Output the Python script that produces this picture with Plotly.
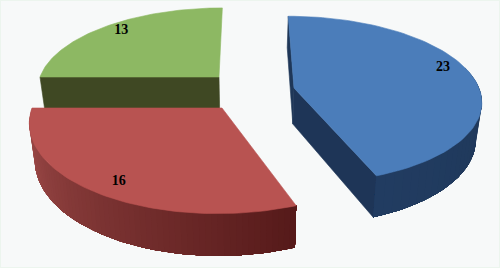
import numpy as np
import plotly.graph_objects as go

categories = ["A", "B", "C"]
values = [23, 16, 13]
top_colors = ["#4b7dba", "#b85351", "#8db863"]
dark_colors = ["#1f3758", "#5c2222", "#3f4823"]

# Perspective camera (pixels)
XV, YV = 247.0, -500.0
DEPTH = 36.0
# one placement per slice: apex x, apex y, radius x, perspective strength
placement = [(294.0, 88.0, 185.0, 0.139),
             (222.0, 108.0, 190.0, 0.148),
             (219.0, 77.0, 179.0, 0.136)]
label_radius = [0.87, 0.85, 0.91]
label_shift = [(-5, -8), (2, 3), (6, 0)]


def project(p, X, Y, z=0.0):
    cx, cy, rx, k = p
    w = 1.0 / (1.0 + k * Y)
    x = XV + (cx - XV + rx * X) * w
    y = YV + (cy - YV) * w + z * DEPTH * w
    x = XV + (x - XV) * (1 - 0.0007 * z * DEPTH)
    return x, y


def pt(p, deg, r=1.0, z=0.0):
    a = np.radians(deg)
    return project(p, r * np.sin(a), r * np.cos(a), z)


def mix(c1, c2, t):
    a = [int(c1[i:i + 2], 16) for i in (1, 3, 5)]
    b = [int(c2[i:i + 2], 16) for i in (1, 3, 5)]
    return "rgb(%d,%d,%d)" % tuple(round(u + (v - u) * t) for u, v in zip(a, b))


def poly(fig, pts, color, lw=0.6):
    xs = [q[0] for q in pts] + [pts[0][0]]
    ys = [q[1] for q in pts] + [pts[0][1]]
    fig.add_trace(go.Scatter(x=xs, y=ys, mode="lines", fill="toself", fillcolor=color,
                             line=dict(color=color, width=lw), hoverinfo="skip", showlegend=False))


total = sum(values)
angles = np.cumsum([0] + values) / total * 360.0
fig = go.Figure()


def wedge(i):
    p = placement[i]
    a0, a1 = angles[i], angles[i + 1]
    arc = np.linspace(a0, a1, 80)
    if i == 0:  # blue: both cut faces and the visible rim
        apex_t, apex_b = project(p, 0, 0), project(p, 0, 0, 1)
        poly(fig, [apex_t, pt(p, a0), pt(p, a0, z=1), apex_b], dark_colors[0])
        poly(fig, [apex_t, pt(p, a1), pt(p, a1, z=1), apex_b], "#1e3557")
        rim_a = np.linspace(75, a1, 30)
        shade = (dark_colors[0], "#213c61")
    elif i == 1:  # red rim with a strong gradient
        rim_a = np.linspace(a1, a0, 70)
        shade = ("#a34e4c", "#561a1a")
    else:  # green: flat front cut face
        poly(fig, [project(p, 0, 0), pt(p, a0), pt(p, a0, z=1), project(p, 0, 0, 1)], dark_colors[2])
        rim_a = None
    if rim_a is not None:
        # painter's order: every band runs to the end of the rim, so no seams show
        for j in range(len(rim_a) - 1):
            t = j / (len(rim_a) - 2)
            rest = rim_a[j:]
            band = [pt(p, a) for a in rest] + [pt(p, a, z=1) for a in rest[::-1]]
            poly(fig, band, mix(shade[0], shade[1], t), lw=0)
    poly(fig, [project(p, 0, 0)] + [pt(p, a) for a in arc], top_colors[i])


for i in (2, 0, 1):
    wedge(i)

lx, ly = [], []
for i in range(3):
    mid = (angles[i] + angles[i + 1]) / 2
    x, y = pt(placement[i], mid, label_radius[i])
    lx.append(x + label_shift[i][0])
    ly.append(y + label_shift[i][1])
fig.add_trace(go.Scatter(x=lx, y=ly, mode="text", text=[str(v) for v in values],
                         textposition="middle center", hoverinfo="skip", showlegend=False,
                         textfont=dict(family="Liberation Serif", size=14, color="#000000", weight="bold")))

fig.update_layout(width=500, height=268, margin=dict(l=0, r=0, t=0, b=0),
                  paper_bgcolor="#f7f9f9", plot_bgcolor="#f7f9f9", showlegend=False,
                  xaxis=dict(range=[0, 500], visible=False, fixedrange=True),
                  yaxis=dict(range=[268, 0], visible=False, fixedrange=True),
                  shapes=[dict(type="rect", xref="paper", yref="paper", x0=0, x1=1, y0=0, y1=1,
                               line=dict(color="#ecf5ee", width=2), layer="below")])
fig.write_html("out.html", config=dict(displayModeBar=False),
               post_script="document.body.style.margin='0';document.documentElement.style.overflow='hidden';")
